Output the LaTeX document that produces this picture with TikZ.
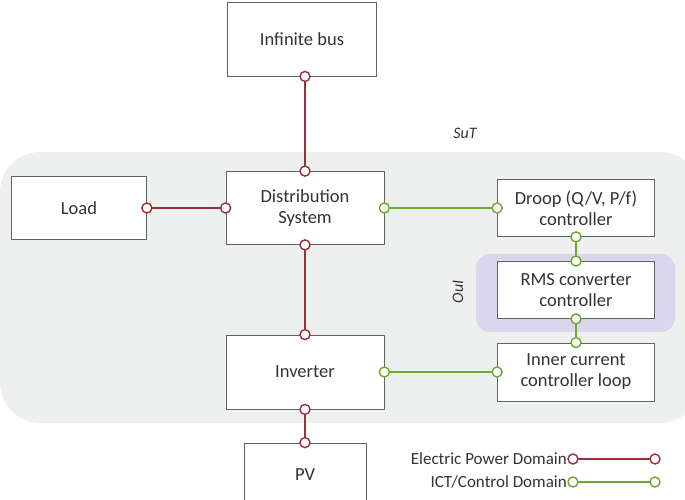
\documentclass[tikz,border=0pt]{standalone}
\usepackage{fontspec}
\setmainfont{Carlito}
\usepackage{tikz}
\usetikzlibrary{positioning, calc}
\definecolor{epred}{HTML}{9B2F38}
\definecolor{ictgreen}{HTML}{6BAA2C}
\definecolor{sutgray}{HTML}{EEF0EF}
\definecolor{ouipurple}{HTML}{DAD6EC}
\definecolor{boxline}{HTML}{5E6262}
\definecolor{txt}{HTML}{333333}
\tikzset{
    block/.style={draw=boxline, line width=0.8pt, fill=white, align=center,
      text=txt, font=\fontsize{18.5}{21}\selectfont, inner sep=0pt},
    port/.style={circle, fill=white, line width=1.4pt, minimum size=10pt, inner sep=0pt},
    epd/.style={draw=epred, line width=2pt, every node/.style={port, draw=epred}},
    ict/.style={draw=ictgreen, line width=2pt, every node/.style={port, draw=ictgreen}},
}
\begin{document}
\begin{tikzpicture}[x=1pt, y=-1pt]
    \useasboundingbox (0,0) rectangle (685,500);

    % areas
    \fill[sutgray, rounded corners=40pt] (0,152) rectangle (700,423);
    \fill[ouipurple, rounded corners=14pt] (476,254) rectangle (675,332);
    \node[font=\fontsize{16}{18}\selectfont\itshape, text=txt] (sut) at (465,133) {SuT};
    \node[font=\fontsize{16}{18}\selectfont\itshape, text=txt, rotate=90] (oui) at (458,292) {OuI};

    % blocks
    \node[block, minimum width=149pt, minimum height=74pt] (bus) at (302,39) {Infinite bus};
    \node[block, minimum width=135pt, minimum height=63pt] (load) at (79,208) {Load};
    \node[block, minimum width=158pt, minimum height=73pt] (dist) at (305,208) {Distribution\\System};
    \node[block, minimum width=157pt, minimum height=57pt] (droop) at (576,208) {Droop (Q/V, P/f)\\controller};
    \node[block, minimum width=157pt, minimum height=57pt] (rms) at (576,290) {RMS converter\\controller};
    \node[block, minimum width=157pt, minimum height=58pt] (inner) at (576,372) {Inner current\\controller loop};
    \node[block, minimum width=158pt, minimum height=74pt] (inv) at (305,372) {Inverter};
    \node[block, minimum width=122pt, minimum height=64pt] (pv) at (305,475) {PV};

    % electric power links
    \draw[epd] (dist.north) node{} -- (bus.south -| dist.north) node{};
    \draw[epd] (load.east) node{} -- (dist.west) node{};
    \draw[epd] (dist.south) node{} -- (inv.north) node{};
    \draw[epd] (inv.south) node{} -- (pv.north) node{};

    % ICT/control links
    \draw[ict] (dist.east) node{} -- (droop.west) node{};
    \draw[ict] (droop.south) node{} -- (rms.north) node{};
    \draw[ict] (rms.south) node{} -- (inner.north) node{};
    \draw[ict] (inv.east) node{} -- (inner.west) node{};

    % legend
    \coordinate (ep1) at (573,459);
    \coordinate (ep2) at (655,459);
    \coordinate (ict1) at (573,482);
    \coordinate (ict2) at (655,482);
    \draw[epd] (ep1) node{} -- (ep2) node{};
    \draw[ict] (ict1) node{} -- (ict2) node{};
    \node[left=5pt of ep1, text=txt, font=\fontsize{17}{19}\selectfont, inner sep=1pt] (eplabel) {Electric Power Domain};
    \node[left=5pt of ict1, text=txt, font=\fontsize{17}{19}\selectfont, inner sep=1pt] (ictlabel) {ICT/Control Domain};
\end{tikzpicture}
\end{document}
